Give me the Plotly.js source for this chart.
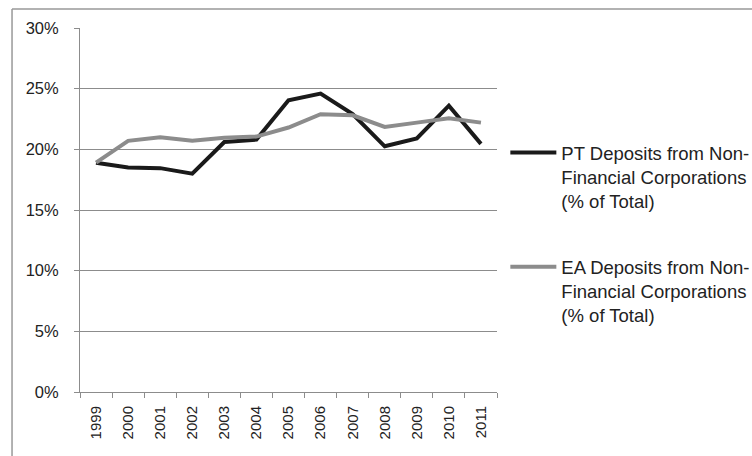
<!DOCTYPE html>
<html>
<head>
<meta charset="utf-8">
<script src="https://cdn.plot.ly/plotly-3.0.1.min.js"></script>
<style>html,body{margin:0;padding:0;background:#fff;}#chart{width:752px;height:456px;}</style>
</head>
<body>
<div id="chart"></div>
<script>
const years = ["1999","2000","2001","2002","2003","2004","2005","2006","2007","2008","2009","2010","2011"];
const ptDeposits = [18.9, 18.5, 18.45, 18.0, 20.6, 20.8, 24.05, 24.6, 22.9, 20.25, 20.9, 23.6, 20.45];
const eaDeposits = [18.9, 20.7, 21.0, 20.7, 20.95, 21.05, 21.8, 22.9, 22.8, 21.85, 22.2, 22.55, 22.2];
const ptName = "PT Deposits from Non-<br>Financial Corporations<br>(% of Total)";
const eaName = "EA Deposits from Non-<br>Financial Corporations<br>(% of Total)";

const font = "Liberation Sans, Arial, sans-serif";
const traces = [
  {x: years, y: ptDeposits, type: "scatter", mode: "lines", name: ptName, legendgroup: "pt",
   line: {color: "#1a1a1a", width: 4}},
  {x: years, y: eaDeposits, type: "scatter", mode: "lines", name: eaName, legendgroup: "ea",
   line: {color: "#8c8c8c", width: 4}}
];
const layout = {
  width: 752, height: 456,
  margin: {l: 80, r: 255, t: 28, b: 64, autoexpand: false},
  paper_bgcolor: "#fff", plot_bgcolor: "#fff",
  font: {family: font, color: "#222", size: 16},
  showlegend: true,
  legend: {xref: "container", yref: "container", x: 0.672, xanchor: "left", y: 0.706, yanchor: "top", valign: "top",
           font: {family: font, size: 18.5, color: "#222"}, tracegroupgap: 39,
           itemwidth: 46, bgcolor: "rgba(0,0,0,0)"},
  xaxis: {type: "category", tickson: "boundaries", ticks: "outside", ticklen: 5, tickcolor: "#8c8c8c",
          tickangle: -90, showline: true, linecolor: "#8c8c8c", linewidth: 1, showgrid: false,
          ticklabelstandoff: 7,
          tickfont: {family: font, size: 15, color: "#222"}, range: [-0.5, 12.5], fixedrange: true},
  yaxis: {range: [0, 30], dtick: 5, ticksuffix: "%", ticks: "outside", ticklen: 5, tickcolor: "#8c8c8c",
          showline: true, linecolor: "#8c8c8c", linewidth: 1, showgrid: true, gridcolor: "#8c8c8c", gridwidth: 1,
          zeroline: false, ticklabelstandoff: 12, tickfont: {family: font, size: 16.5, color: "#222"}, fixedrange: true},
  shapes: [
    {type: "line", xref: "paper", yref: "paper", x0: -0.163, x1: 1.7, y0: 1.052, y1: 1.052, line: {color: "#999", width: 1.5}},
    {type: "line", xref: "paper", yref: "paper", x0: -0.163, x1: -0.163, y0: 1.052, y1: -0.3, line: {color: "#999", width: 1.5}}
  ]
};
Plotly.newPlot("chart", traces, layout, {displayModeBar: false, staticPlot: true});
</script>
</body>
</html>
